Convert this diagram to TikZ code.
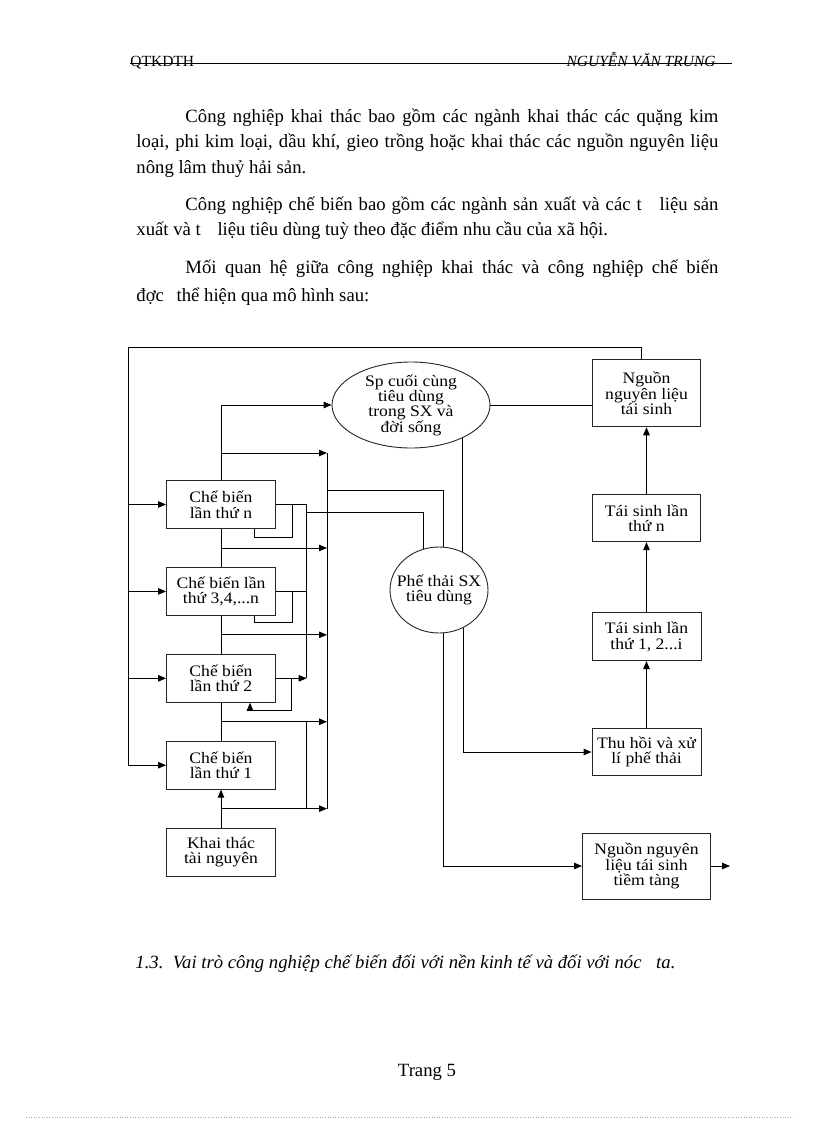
\documentclass[tikz,border=0pt]{standalone}
\usepackage{fontspec}
\setmainfont{Liberation Serif}
\newfontfamily\boxfont[FakeStretch=1.1]{Liberation Serif}
\usepackage{tikz}
\usetikzlibrary{calc,shapes.geometric,positioning,arrows.meta}
\tikzset{
  rectnode/.style args={#1,#2}{
  draw=black!85,
  minimum width=#1pt,
  minimum height=#2pt,
  inner sep=0pt,
  align=center,
  font=\boxfont\fontsize{16}{15.8}\selectfont
  },
  oval/.style args={#1,#2}{rectnode={#1,#2},ellipse},
  txt/.style={inner sep=0pt,anchor=base west,font=\fontsize{18.7}{22}\selectfont},
  headtxt/.style={txt,font=\fontsize{15.5}{18}\selectfont}
}
\begin{document}
\begin{tikzpicture}[x=1pt,y=-1pt,node distance=38pt,line width=0.9pt,
  >={Triangle[length=8pt,width=6.5pt]}]

  \fill[white] (0,0) rectangle (816,1123);
  \useasboundingbox (0,0) rectangle (816,1123);

  \node [headtxt] (hdleft) at (130,66.5) {QTKDTH};
  \node [headtxt,anchor=base east,font=\fontsize{15.5}{18}\selectfont\itshape] (hdright) at (716,66.5) {NGUYỄN VĂN TRUNG};
  \draw ([yshift=3.5pt]hdleft.base west) -- ([xshift=16pt,yshift=3.5pt]hdright.base east);

  \node [txt] (p1a) at (185,123) {\makebox[533pt][s]{Công nghiệp khai thác bao gồm các ngành khai thác các quặng kim}};
  \node [txt] (p1b) at (136,147.5) {\makebox[582pt][s]{loại, phi kim loại, dầu khí, gieo trồng hoặc khai thác các nguồn nguyên liệu}};
  \node [txt] (p1c) at (136,174) {nông lâm thuỷ hải sản.};
  \node [txt] (p2a) at (185,211) {\makebox[533pt][s]{Công nghiệp chế biến bao gồm các ngành sản xuất và các t\hspace{12pt} liệu sản}};
  \node [txt] (p2b) at (136,236) {xuất và t\hspace{12pt} liệu tiêu dùng tuỳ theo đặc điểm nhu cầu của xã hội.};
  \node [txt] (p3a) at (185,273) {\makebox[533pt][s]{Mối quan hệ giữa công nghiệp khai thác và công nghiệp chế biến}};
  \node [txt] (p3b) at (136,301) {đợc\hspace{8pt} thể hiện qua mô hình sau:};

  \node [rectnode={109,48}] (cbn) at (221,504.5) {Chế biến\\lần thứ n};
  \node [rectnode={109,48},below=of cbn] (cb34) {Chế biến lần\\thứ 3,4,...n};
  \node [rectnode={109,48},below=of cb34] (cb2) {Chế biến\\lần thứ 2};
  \node [rectnode={109,48},below=of cb2] (cb1) {Chế biến\\lần thứ 1};
  \node [rectnode={109,48},below=of cb1] (khaithac) {Khai thác\\tài nguyên};

  \node [oval={158,86},inner ysep=-3pt,font=\boxfont\fontsize{16}{15.3}\selectfont] (spnode) at (411,405) {Sp cuối cùng\\tiêu dùng\\trong SX và\\đời sống};
  \node [oval={98,86},inner xsep=-10pt] (phethai) at (439,590) {Phế thải SX\\tiêu dùng};

  \node [rectnode={109,47}] (thuhoi) at (646.5,752) {Thu hồi và xử\\lí phế thải};
  \node [rectnode={109,48},above=67pt of thuhoi] (taisinh1) {Tái sinh lần\\thứ 1, 2...i};
  \node [rectnode={108,47},above=70pt of taisinh1] (taisinhn) {Tái sinh lần\\thứ n};
  \node [rectnode={108,67},above=67pt of taisinhn] (nguon) {Nguồn\\nguyên liệu\\tái sinh};
  \node [rectnode={128,66}] (tiemtang) at (646.5,866) {Nguồn nguyên\\liệu tái sinh\\tiềm tàng};

  \coordinate (ltop) at (128,347);
  \coordinate (bus) at (327,490);
  \coordinate (busb) at (306.7,512);
  \coordinate (s5) at (221,453);
  \coordinate (tout) at (730,866);

  \draw ([xshift=-5pt]nguon.north) |- (ltop) -- (ltop |- cb1.west);
  \foreach \b in {cbn,cb34,cb2,cb1}
    \draw[->] (ltop |- \b.west) -- (\b.west);

  \draw[->] (khaithac) -- (cb1);
  \draw (cb1) -- (cb2) (cb2) -- (cb34) (cb34) -- (cbn);
  \draw[->] (cbn.north) |- (spnode.west);

  \foreach \u/\l in {cbn/cb34,cb34/cb2,cb2/cb1,cb1/khaithac}{
    \path ($(\u.south)!.5!(\l.north)$) coordinate (m\u);
    \draw[->] (m\u) -- (m\u -| bus);
  }
  \draw[->] (s5) -- (s5 -| bus);
  \draw (s5 -| bus) -- (mcb1 -| bus);
  \draw (bus) -| (phethai.84);

  \draw (cbn.east) -- (cbn.east -| busb) -- (cb2.east -| busb);
  \draw (cb34.east) -- (cb34.east -| busb);
  \draw[->] (cb2.east) -- (cb2.east -| busb);
  \draw (mcb2 -| busb) -- (mcb1 -| busb);
  \draw (busb) -| (phethai.110);

  \draw ($(cbn.east)+(16,0)$) |- ($(cbn.south)+(33,8)$) -- ($(cbn.south)+(33,0)$);
  \draw ($(cb34.east)+(16,0)$) |- ($(cb34.south)+(33,7)$) -- ($(cb34.south)+(33,0)$);
  \draw[->] ($(cb2.east)+(15,0)$) |- ($(cb2.south)+(29,8)$) -- ($(cb2.south)+(29,0)$);

  \draw (spnode.east) -- (spnode.east -| nguon.west);
  \draw (spnode.-33) -- (spnode.-33 |- phethai.59);
  \draw[->] (phethai.-57) |- (thuhoi.west);
  \draw[->] (phethai.-84) |- (tiemtang.west);
  \draw[->] (tiemtang.east) -- (tout);

  \draw[->] (thuhoi) -- (taisinh1);
  \draw[->] (taisinh1) -- (taisinhn);
  \draw[->] (taisinhn) -- (nguon);

  \node [txt,font=\fontsize{18.7}{22}\selectfont\itshape] (caption) at (135,968) {1.3.\ \ Vai trò công nghiệp chế biến đối với nền kinh tế và đối với nóc\hspace{10pt} ta.};
  \node [txt,anchor=base] (pagenum) at (427,1076) {Trang 5};
  \draw[black!35,dotted,line width=0.6pt] (26,1117) -- (793,1117);
\end{tikzpicture}
\end{document}
